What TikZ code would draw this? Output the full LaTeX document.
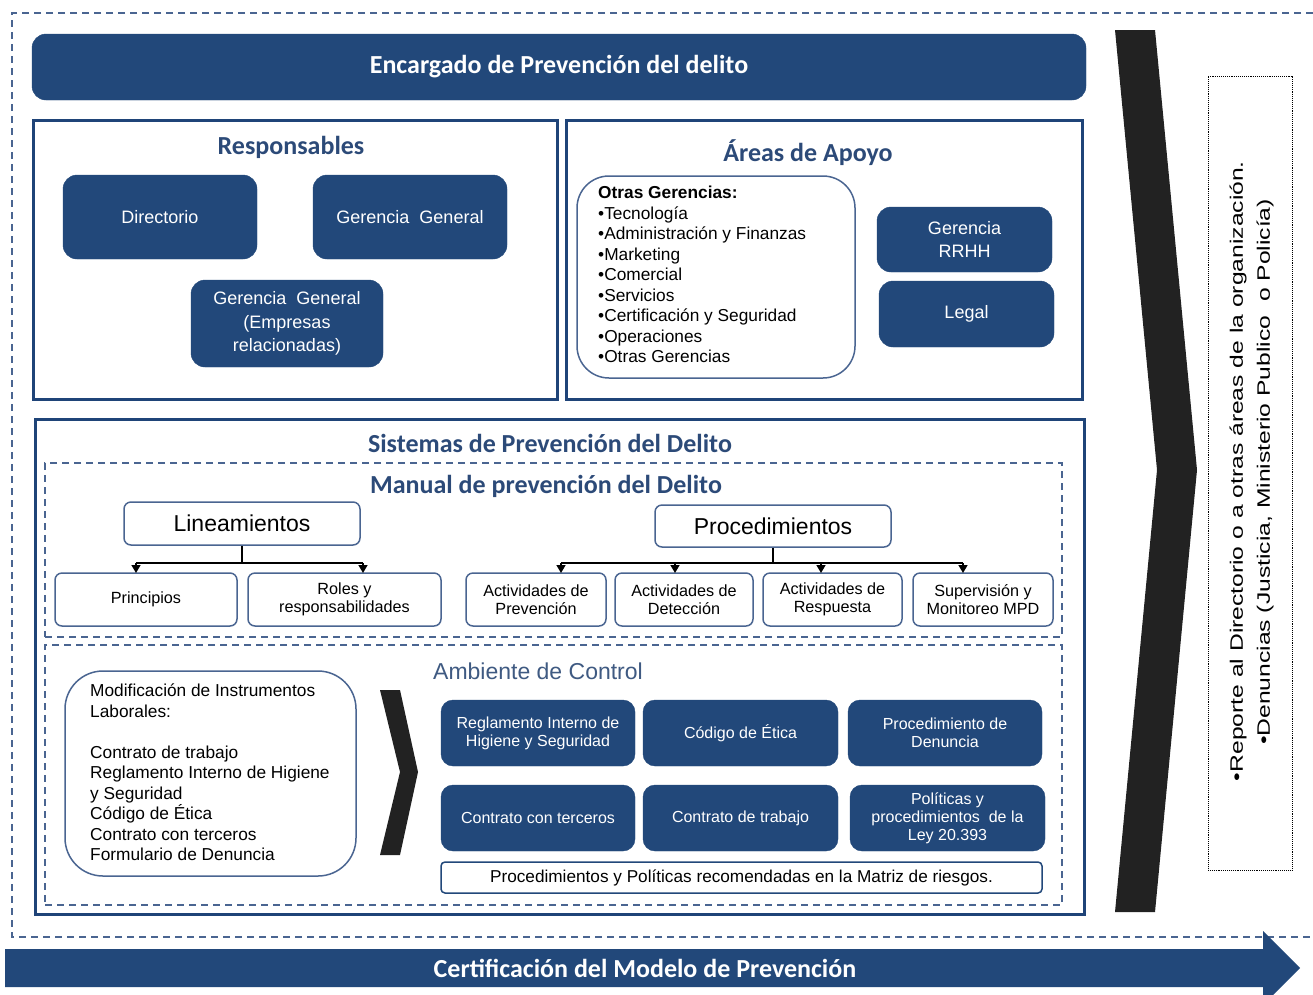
\documentclass[tikz,border=0pt]{standalone}
\usepackage{fontspec}
\setmainfont{Liberation Sans}
\newfontfamily\titlefont{Carlito}
\usetikzlibrary{arrows.meta}
\definecolor{navy}{HTML}{22487A}
\definecolor{navyline}{HTML}{1F4478}
\definecolor{titleblue}{HTML}{2C4A78}
\definecolor{thinblue}{HTML}{4A6591}
\definecolor{ambblue}{HTML}{3F5A82}
\definecolor{chev}{HTML}{222222}
\begin{document}
\begin{tikzpicture}[x=1pt,y=-1pt,
  darkbox/.style={fill=navy, draw=navy, rounded corners=14pt, text=white, align=center, inner sep=0pt,
    font=\fontsize{18}{23.5}\selectfont},
  smalldark/.style={darkbox, rounded corners=12pt, font=\fontsize{16}{18}\selectfont},
  frame/.style={draw=navyline, line width=3pt, inner sep=0pt},
  dashframe/.style={draw=thinblue, line width=1.2pt, dash pattern=on 7pt off 5pt, inner sep=0pt},
  thinbox/.style={draw=thinblue, line width=1.5pt, rounded corners=7pt, fill=white, align=center, inner sep=0pt,
    font=\fontsize{16.2}{18}\selectfont},
  headbox/.style={thinbox, font=\fontsize{23}{26}\selectfont},
  ttl/.style={text=titleblue, font=\titlefont\bfseries\fontsize{26}{30}\selectfont, inner sep=0pt},
  conn/.style={draw=black, line width=1.5pt},
  arr/.style={conn, -{Triangle[length=8pt,width=9pt]}},
  listtxt/.style={anchor=north west, align=left, inner sep=0pt, font=\fontsize{17.3}{20.5}\selectfont}
]
\useasboundingbox (0,0) rectangle (1313,994);
\fill[white] (0,0) rectangle (1313,994);

% outer dashed frame
\draw[dashframe] (1313,13) -- (12,13) -- (12,937) -- (1313,937);

% top banner
\node[darkbox, rounded corners=14pt, minimum width=1054, minimum height=66,
  font=\titlefont\bfseries\fontsize{26}{30}\selectfont] (enc) at (559,67) {Encargado de Prevención del delito};

% Responsables
\node[frame, minimum width=524, minimum height=279] (resp) at (295,259.5) {};
\node[ttl] (resptitle) at (291,147) {Responsables};
\node[darkbox, minimum width=194, minimum height=84] (dir) at (160,217) {Directorio};
\node[darkbox, minimum width=194, minimum height=84] (gg) at (410,217) {Gerencia\ \ General};
\node[darkbox, minimum width=192, minimum height=87] (gge) at (287,323.5) {Gerencia\ \ General\\(Empresas\\relacionadas)};

% Areas de Apoyo
\node[frame, minimum width=516, minimum height=279] (areas) at (824,259.5) {};
\node[ttl] (areastitle) at (808,153) {Áreas de Apoyo};
\node[thinbox, rounded corners=32pt, minimum width=278, minimum height=202] (otras) at (716,277) {};
\node[listtxt] (otrastxt) at (598,186) {\textbf{Otras Gerencias:}\\•Tecnología\\•Administración y Finanzas\\•Marketing\\•Comercial\\•Servicios\\•Certificación y Seguridad\\•Operaciones\\•Otras Gerencias};
\node[darkbox, minimum width=175, minimum height=65] (rrhh) at (964.5,239.5) {Gerencia\\RRHH};
\node[darkbox, minimum width=175, minimum height=66] (legal) at (966.5,314) {Legal};

% Sistemas
\node[frame, minimum width=1049, minimum height=495] (sis) at (559.5,666.5) {};
\node[ttl] (sistitle) at (550,443) {Sistemas de Prevención del Delito};

% Manual
\node[dashframe, minimum width=1017, minimum height=174] (manual) at (553.5,550) {};
\node[ttl] (mantitle) at (546,486) {Manual de prevención del Delito};
\node[headbox, minimum width=236, minimum height=43] (lin) at (242,523.5) {Lineamientos};
\node[headbox, minimum width=236, minimum height=42] (proc) at (773,526) {Procedimientos};
\node[thinbox, minimum width=182, minimum height=53] (prin) at (146,599.5) {Principios};
\node[thinbox, minimum width=193, minimum height=53] (roles) at (344.5,599.5) {Roles y\\responsabilidades};
\node[thinbox, minimum width=140, minimum height=53] (ap) at (536,599.5) {Actividades de\\Prevención};
\node[thinbox, minimum width=138, minimum height=53] (ad) at (684,599.5) {Actividades de\\Detección};
\node[thinbox, minimum width=139, minimum height=53] (ar) at (832.5,599.5) {Actividades de\\Respuesta};
\node[thinbox, minimum width=140, minimum height=53] (sm) at (983,599.5) {Supervisión y\\Monitoreo MPD};

\coordinate (linbar) at (242,563);
\draw[conn] (lin.south) -- (linbar);
\draw[conn] (136,563) -- (363,563);
\draw[arr] (136,563) -- (136,573);
\draw[arr] (363,563) -- (363,573);
\coordinate (procbar) at (773,563);
\draw[conn] (proc.south) -- (procbar);
\draw[conn] (561,563) -- (963,563);
\foreach \xx in {561,675,821,963} \draw[arr] (\xx,563) -- (\xx,573);

% Ambiente de Control
\node[dashframe, minimum width=1017, minimum height=260] (amb) at (553.5,775) {};
\node[inner sep=0pt, text=ambblue, font=\fontsize{23}{26}\selectfont] (ambtitle) at (538,671) {Ambiente de Control};
\node[thinbox, rounded corners=38pt, minimum width=291, minimum height=205] (mod) at (210.5,773.5) {};
\node[listtxt] (modtxt) at (90,684) {Modificación de Instrumentos\\Laborales:\\[20.5pt]Contrato de trabajo\\Reglamento Interno de Higiene\\y Seguridad\\Código de Ética\\Contrato con terceros\\Formulario de Denuncia};
\fill[chev] (380,690) -- (400,690) -- (418,772) -- (400,855) -- (380,855) -- (400,772) -- cycle;

\node[smalldark, minimum width=194, minimum height=66] (rih) at (538,733) {Reglamento Interno de\\Higiene y Seguridad};
\node[smalldark, minimum width=195, minimum height=66] (cod) at (740.5,733) {Código de Ética};
\node[smalldark, minimum width=194, minimum height=66] (pden) at (945,733) {Procedimiento de\\Denuncia};
\node[smalldark, minimum width=194, minimum height=66] (cter) at (538,818) {Contrato con terceros};
\node[smalldark, minimum width=195, minimum height=66] (ctra) at (740.5,818) {Contrato de trabajo};
\node[smalldark, minimum width=195, minimum height=66] (pol) at (947.5,818) {Políticas y\\procedimientos\ \ de la\\Ley 20.393};
\node[thinbox, draw=navy, rounded corners=4pt, minimum width=601, minimum height=31, font=\fontsize{17.2}{18}\selectfont] (matriz) at (741.5,877.5) {Procedimientos y Políticas recomendadas en la Matriz de riesgos.};

% big chevron
\fill[chev] (1115,30) -- (1155,30) -- (1197,470) -- (1155,912) -- (1115,912) -- (1157,470) -- cycle;

% report box
\node[draw=black, densely dotted, line width=0.9pt, minimum width=84, minimum height=794, inner sep=0pt] (rep) at (1250,473) {};
\node[rotate=90, inner sep=0pt, font=\fontsize{18}{20}\selectfont] (rep1) at (1238,471) {\scalebox{1.37}[1]{•Reporte al Directorio o a otras áreas de la organización.}};
\node[rotate=90, inner sep=0pt, font=\fontsize{18}{20}\selectfont] (rep2) at (1265,472) {\scalebox{1.37}[1]{•Denuncias (Justicia, Ministerio Publico\ \ o Policía)}};

% bottom arrow
\fill[navy] (5,949) -- (1263,949) -- (1263,931) -- (1300,968) -- (1263,1005) -- (1263,987) -- (5,987) -- cycle;
\node[inner sep=0pt, text=white, font=\titlefont\bfseries\fontsize{26}{30}\selectfont] (cert) at (645,968) {Certificación del Modelo de Prevención};
\end{tikzpicture}
\end{document}
